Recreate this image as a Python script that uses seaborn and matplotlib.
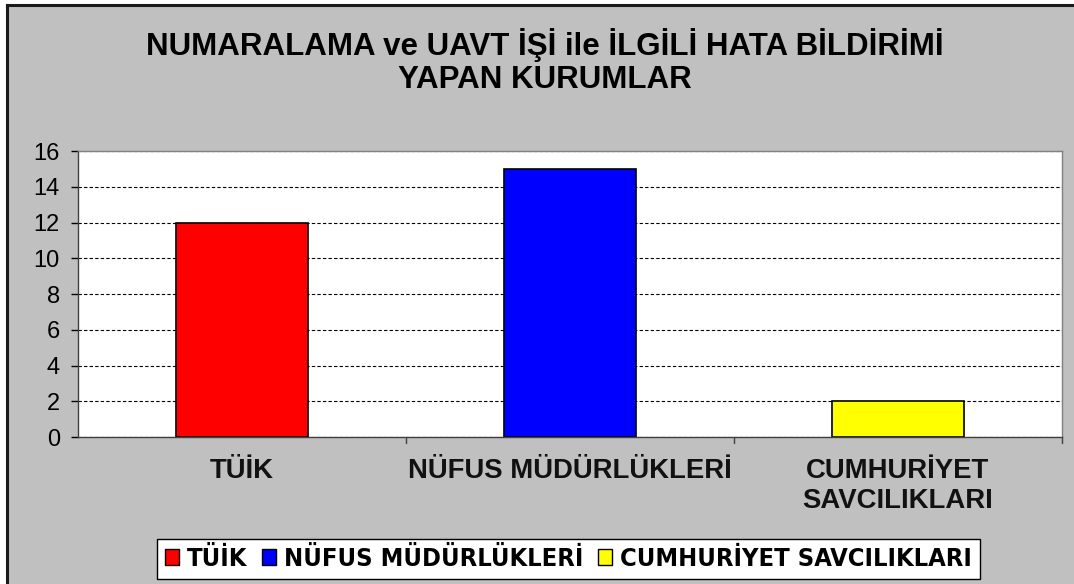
import matplotlib
matplotlib.use("Agg")
import matplotlib.pyplot as plt
import seaborn as sns
import pandas as pd
from matplotlib.patches import Rectangle
from matplotlib.lines import Line2D

categories = ["TÜİK", "NÜFUS MÜDÜRLÜKLERİ", "CUMHURİYET SAVCILIKLARI"]
tick_labels = ["TÜİK", "NÜFUS MÜDÜRLÜKLERİ", "CUMHURİYET\nSAVCILIKLARI"]
values = [12, 15, 2]
colors = ["#ff0000", "#0000ff", "#ffff00"]
title = "NUMARALAMA ve UAVT İŞİ ile İLGİLİ HATA BİLDİRİMİ\nYAPAN KURUMLAR"

sns.set_theme(style="white")
plt.rcParams['font.family'] = ['Liberation Sans', 'DejaVu Sans']
plt.rcParams['text.color'] = 'black'
plt.rcParams['xtick.color'] = 'black'
plt.rcParams['ytick.color'] = 'black'

df = pd.DataFrame({"cat": categories, "val": values})

W, H = 1074.0, 584.0
fig = plt.figure(figsize=(10.74, 5.84), dpi=100, facecolor="#c0c0c0")
# white strips outside the chart area (top and left), then the dark chart border
fig.add_artist(Rectangle((0, 0), 6.5 / W, 1, transform=fig.transFigure,
                         facecolor="white", edgecolor="none", zorder=-2))
fig.add_artist(Rectangle((0, 1 - 3.5 / H), 1, 3.5 / H, transform=fig.transFigure,
                         facecolor="white", edgecolor="none", zorder=-2))
fig.add_artist(Line2D([7.5 / W, 7.5 / W], [0, 1 - 4.5 / H], transform=fig.transFigure,
                      color="#1a1a1a", linewidth=2.2, zorder=-1, solid_capstyle="projecting"))
fig.add_artist(Line2D([7.5 / W, 1], [1 - 4.5 / H, 1 - 4.5 / H], transform=fig.transFigure,
                      color="#1a1a1a", linewidth=2.2, zorder=-1, solid_capstyle="projecting"))

ax = fig.add_axes([0.0726, 0.2517, 0.9162, 0.4897])
ax.set_facecolor("white")

sns.barplot(data=df, x="cat", y="val", hue="cat", palette=colors, order=categories,
            hue_order=categories, width=0.4, edgecolor="black", linewidth=1.2,
            saturation=1, dodge=False, legend=False, ax=ax)

ax.set_ylim(0, 16)
ax.set_yticks(range(0, 17, 2))
ax.set_xlim(-0.5, 2.5)
ax.yaxis.grid(True, linestyle=(0, (3, 2)), color="black", linewidth=0.8)
ax.set_axisbelow(True)
ax.set_xlabel("")
ax.set_ylabel("")
ax.set_xticks([0, 1, 2])
ax.set_xticklabels(tick_labels, fontweight="bold", fontsize=19.8, color="#111111",
                   linespacing=1.2)
ax.tick_params(axis="x", length=0, pad=15)
ax.tick_params(axis="y", labelsize=17, length=5, width=1, direction="out", left=True, pad=8,
               labelcolor="black")
for x in [0.5, 1.5, 2.5]:
    ax.plot([x, x], [0, -0.022], transform=ax.get_xaxis_transform(), color="#404040",
            linewidth=1, clip_on=False)
for s in ["left", "bottom"]:
    ax.spines[s].set_color("#404040")
    ax.spines[s].set_linewidth(1)
for s in ["top", "right"]:
    ax.spines[s].set_color("#808080")
    ax.spines[s].set_linewidth(1)

fig.text(0.507, 0.895, title, ha="center", va="center", fontsize=22.5, fontweight="bold",
         linespacing=1.15, color="black")

handles = [Rectangle((0, 0), 1, 1, facecolor=c, edgecolor="black", linewidth=1) for c in colors]
leg = fig.legend(handles, categories, loc="center", bbox_to_anchor=(0.5293, 0.0428), ncol=3,
                 frameon=True, fancybox=False, edgecolor="black", framealpha=1,
                 handlelength=0.55, handleheight=0.55, handletextpad=0.3, columnspacing=0.6,
                 borderpad=0.3,
                 prop={"family": ["DejaVu Sans"], "stretch": "condensed", "weight": "bold", "size": 18.3})
leg.get_frame().set_linewidth(1)

fig.savefig("out.png", dpi=100, facecolor=fig.get_facecolor())
